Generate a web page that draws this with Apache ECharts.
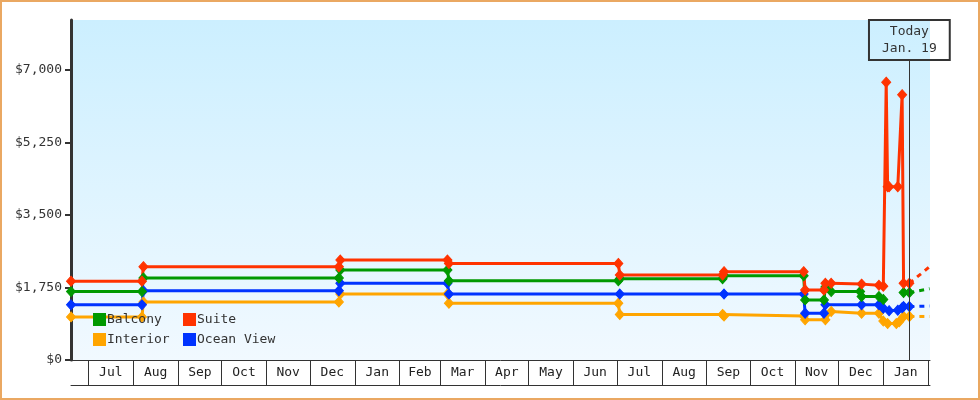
<!DOCTYPE html>
<html><head><meta charset="utf-8">
<script src="https://cdn.jsdelivr.net/npm/echarts@6/dist/echarts.min.js"></script>
<style>
html,body{margin:0;padding:0;background:#fff;}
#wrap{position:relative;width:980px;height:400px;}
#chart{position:absolute;left:0;top:0;width:980px;height:400px;}
#frame{position:absolute;left:0;top:0;width:980px;height:400px;box-sizing:border-box;border:2px solid #eaa862;pointer-events:none;}
</style></head>
<body><div id="wrap"><div id="chart"></div><div id="frame"></div></div>
<script>
// ---- data ----
const TODAY = '2016-01-19';
const TODAY_LABEL = 'Today\nJan. 19';
const monthStarts = ['2014-07','2014-08','2014-09','2014-10','2014-11','2014-12','2015-01','2015-02','2015-03','2015-04','2015-05','2015-06','2015-07','2015-08','2015-09','2015-10','2015-11','2015-12','2016-01','2016-02'];
const monthLabels = ['Jul','Aug','Sep','Oct','Nov','Dec','Jan','Feb','Mar','Apr','May','Jun','Jul','Aug','Sep','Oct','Nov','Dec','Jan'];
const yTicks = [0, 1750, 3500, 5250, 7000];

const suiteData = [['2014-06-19',1900],['2014-08-07',1900],['2014-08-08',2250],['2014-12-21',2250],['2014-12-22',2410],['2015-03-06',2410],['2015-03-07',2330],['2015-07-02',2330],['2015-07-03',2050],['2015-09-12',2050],['2015-09-13',2130],['2015-11-07',2130],['2015-11-08',1690],['2015-11-21',1690],['2015-11-22',1850],['2015-11-26',1850],['2015-12-17',1830],['2015-12-29',1800],['2016-01-01',1780],['2016-01-03',6700],['2016-01-04',4180],['2016-01-05',4180],['2016-01-11',4180],['2016-01-14',6400],['2016-01-15',1850],['2016-01-19',1850]];
const balconyData = [['2014-06-19',1650],['2014-08-07',1650],['2014-08-08',1980],['2014-12-21',1980],['2014-12-22',2170],['2015-03-06',2170],['2015-03-07',1910],['2015-07-02',1910],['2015-07-03',1960],['2015-09-12',1960],['2015-09-13',2030],['2015-11-07',2030],['2015-11-08',1450],['2015-11-21',1450],['2015-11-22',1760],['2015-11-26',1650],['2015-12-16',1650],['2015-12-17',1530],['2015-12-29',1530],['2016-01-01',1460],['2016-01-08','-'],['2016-01-15',1625],['2016-01-19',1625]];
const oceanData = [['2014-06-19',1330],['2014-08-07',1330],['2014-08-08',1670],['2014-12-21',1670],['2014-12-22',1850],['2015-03-06',1850],['2015-03-07',1590],['2015-07-03',1590],['2015-09-13',1590],['2015-11-07',1590],['2015-11-08',1130],['2015-11-21',1130],['2015-11-22',1330],['2015-12-17',1330],['2015-12-29',1330],['2016-01-01',1250],['2016-01-05',1190],['2016-01-11',1200],['2016-01-14',1260],['2016-01-15',1290],['2016-01-19',1290]];
const interiorData = [['2014-06-19',1040],['2014-08-07',1040],['2014-08-08',1400],['2014-12-21',1400],['2014-12-22',1590],['2015-03-06',1590],['2015-03-07',1370],['2015-07-02',1370],['2015-07-03',1100],['2015-09-12',1100],['2015-09-13',1060],['2015-11-07',1060],['2015-11-08',970],['2015-11-22',970],['2015-11-26',1170],['2015-12-17',1130],['2015-12-29',1130],['2016-01-01',940],['2016-01-04',880],['2016-01-10',880],['2016-01-12',920],['2016-01-15',1050],['2016-01-19',1050]];

const suiteProj = [['2016-01-19',1850],['2016-02-02',2250]];
const balconyProj = [['2016-01-19',1625],['2016-02-02',1720]];
const oceanProj = [['2016-01-19',1290],['2016-02-02',1300]];
const interiorProj = [['2016-01-19',1050],['2016-02-02',1050]];

// ---- layout / styles ----
const X_MIN = new Date(2014,5,19,0).getTime();
const X_MAX = new Date(2016,1,2,6).getTime();
const Y_MAX = 8200;
const TODAY_LINE_TOP = 7235;
const FONT = 'DejaVu Sans Mono';
const C = {Suite:'#ff3300', Balcony:'#009900', 'Ocean View':'#0033ff', Interior:'#ffa500'};

function ts(s){ const p=s.split('-').map(Number); return new Date(p[0],p[1]-1,p[2]||1).getTime(); }
function conv(data){ return data.map(d=>[ts(d[0]), d[1]]); }
const tickVals = monthStarts.map(ts);
const labelVals = monthLabels.map((m,i)=> (tickVals[i]+tickVals[i+1])/2);

function mainSeries(name, data){
  return {name, type:'line', data:conv(data), color:C[name], lineStyle:{width:3,color:C[name]},
    itemStyle:{color:C[name], borderColor:C[name], borderWidth:1},
    symbol:'diamond', symbolSize:[9,10], showSymbol:true, showAllSymbol:true, connectNulls:false, z:3, animation:false};
}
function projSeries(name, data){
  return {name:name+' proj', type:'line', data:conv(data), color:C[name], lineStyle:{width:3,color:C[name],type:[5,5]},
    showSymbol:false, symbol:'none', z:2, animation:false, silent:true};
}
function legend(name, left, top){
  return {data:[name], left, top, padding:0, icon:'rect', itemWidth:11, itemHeight:11, itemGap:0,
    textStyle:{fontFamily:FONT, fontSize:13, color:'#333', padding:[0,0,0,-3]}, selectedMode:false};
}

const chart = echarts.init(document.getElementById('chart'), null, {renderer:'canvas'});
const interiorS = mainSeries('Interior', interiorData);
const oceanS = mainSeries('Ocean View', oceanData);
const balconyS = mainSeries('Balcony', balconyData);
const suiteS = mainSeries('Suite', suiteData);
suiteS.markLine = {silent:true, symbol:['none','none'], animation:false,
  lineStyle:{color:'#333', width:1, type:'solid'},
  label:{show:true, position:'end', distance:0, formatter:TODAY_LABEL, fontFamily:FONT, fontSize:13, color:'#333',
    lineHeight:17, padding:[3,13,3,13], borderColor:'#333', borderWidth:1, backgroundColor:'transparent', align:'center'},
  emphasis:{disabled:true},
  data:[[{coord:[ts(TODAY),0]},{coord:[ts(TODAY),TODAY_LINE_TOP]}]]};

chart.setOption({
  animation:false,
  backgroundColor:'#fff',
  grid:{left:71, right:50, top:20, bottom:40, show:true, borderWidth:0,
    backgroundColor:new echarts.graphic.LinearGradient(0,0,0,1,[{offset:0,color:'#ccefff'},{offset:1,color:'#f1f9ff'}])},
  legend:[legend('Balcony',93,313), legend('Suite',183,313), legend('Interior',93,333), legend('Ocean View',183,333)],
  xAxis:[{
    type:'value', min:X_MIN, max:X_MAX, position:'bottom', scale:true,
    axisLine:{show:true, lineStyle:{color:'#333', width:1}},
    axisTick:{show:true, customValues:tickVals, length:25, inside:false, lineStyle:{color:'#333', width:1}},
    axisLabel:{show:true, customValues:labelVals, margin:6, fontFamily:FONT, fontSize:13, color:'#222',
      hideOverlap:false, showMinLabel:true, showMaxLabel:true,
      formatter:(v)=> monthLabels[labelVals.indexOf(v)] || ''},
    splitLine:{show:false}, minorTick:{show:false}
  },{
    type:'value', min:X_MIN, max:X_MAX, position:'bottom', offset:25, scale:true,
    axisLine:{show:true, lineStyle:{color:'#333', width:1}},
    axisTick:{show:false}, axisLabel:{show:false}, splitLine:{show:false}
  }],
  yAxis:{type:'value', min:0, max:Y_MAX, interval:1750,
    axisLine:{show:true, lineStyle:{color:'#333', width:3}},
    axisTick:{show:true, customValues:yTicks, length:6, lineStyle:{color:'#333', width:2}},
    axisLabel:{customValues:yTicks, margin:9, fontFamily:FONT, fontSize:13, color:'#333',
      formatter:(v)=> '$' + Number(v).toLocaleString('en-US')},
    splitLine:{show:false}},
  series:[projSeries('Interior',interiorProj), projSeries('Ocean View',oceanProj), projSeries('Balcony',balconyProj), projSeries('Suite',suiteProj),
    interiorS, oceanS, balconyS, suiteS]
});
</script></body></html>
